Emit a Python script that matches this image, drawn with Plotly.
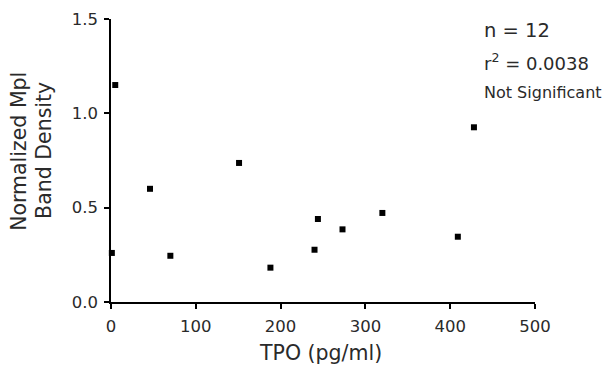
import plotly.graph_objects as go

tpo = [1, 5, 46, 70, 151, 188, 240, 244, 273, 320, 409, 428]
density = [0.26, 1.15, 0.60, 0.245, 0.737, 0.182, 0.277, 0.44, 0.385, 0.472, 0.346, 0.926]

x_ticks = [0, 100, 200, 300, 400, 500]
y_ticks = [0.0, 0.5, 1.0, 1.5]
y_tick_text = ["0.0", "0.5", "1.0", "1.5"]

FONT = "DejaVu Sans, Arial, sans-serif"
TXT = "#2a2a2a"

fig = go.Figure()
fig.add_trace(go.Scatter(
    x=tpo, y=density, mode="markers",
    marker=dict(symbol="square", size=6, color="black"),
    cliponaxis=False, showlegend=False,
))

axis_common = dict(
    showgrid=False, zeroline=False, showline=True, linecolor="black", linewidth=1.5,
    ticks="outside", ticklen=5, tickwidth=1.5, tickcolor="black", automargin=False,
    tickfont=dict(family=FONT, size=16.5, color=TXT), ticklabelstandoff=3,
)
fig.update_xaxes(range=[0, 500], tickvals=x_ticks, **axis_common)
fig.update_yaxes(range=[0, 1.5], tickvals=y_ticks, ticktext=y_tick_text, **axis_common)

fig.update_layout(
    width=603, height=364,
    margin=dict(l=103, r=76, t=11, b=70),
    plot_bgcolor="white", paper_bgcolor="white",
    font=dict(family=FONT, color=TXT),
    annotations=[
        dict(text="TPO (pg/ml)", xref="paper", yref="paper", x=0.493, y=-0.18,
             showarrow=False, font=dict(size=20.5), xanchor="center", yanchor="middle"),
        dict(text="Normalized Mpl", xref="paper", yref="paper", x=-0.217, y=0.534,
             showarrow=False, textangle=-90, font=dict(size=20.5), xanchor="center", yanchor="middle"),
        dict(text="Band Density", xref="paper", yref="paper", x=-0.158, y=0.534,
             showarrow=False, textangle=-90, font=dict(size=20.5), xanchor="center", yanchor="middle"),
        dict(text="n = 12", xref="paper", yref="paper", x=0.875, y=0.958,
             showarrow=False, font=dict(size=19.5), xanchor="left", yanchor="middle"),
        dict(text="r<sup>2</sup> = 0.0038", xref="paper", yref="paper", x=0.875, y=0.848,
             showarrow=False, font=dict(size=18), xanchor="left", yanchor="middle"),
        dict(text="Not Significant", xref="paper", yref="paper", x=0.875, y=0.739,
             showarrow=False, font=dict(size=16), xanchor="left", yanchor="middle"),
    ],
)

fig.write_html("out.html")
